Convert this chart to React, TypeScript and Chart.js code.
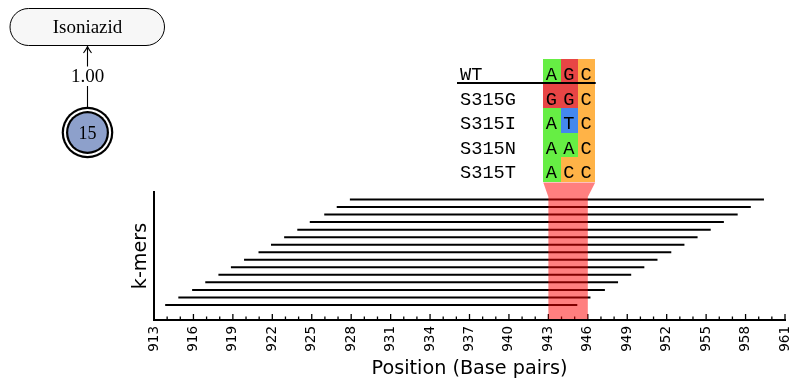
import React, { useEffect, useRef } from "react";
import { Chart, registerables } from "chart.js";

Chart.register(...registerables);

// Resistance network node
const drugName = "Isoniazid";
const edgeWeight = 1.0;
const nodeCount = 15;

// katG codon 315 variants and their codons
const variantNames = ["WT", "S315G", "S315I", "S315N", "S315T"];
const variantCodons = ["AGC", "GGC", "ATC", "AAC", "ACC"];

// k-mer spans (base-pair positions), bottom to top
const kmerRow = [1, 2, 3, 4, 5, 6, 7, 8, 9, 10, 11, 12, 13, 14, 15];
const kmerStart = [913.85, 914.85, 915.9, 916.9, 917.9, 918.85, 919.85, 920.95, 921.9, 922.9, 923.9, 924.85, 925.95, 926.9, 927.9];
const kmerEnd = [945.2, 946.2, 947.3, 948.3, 949.3, 950.3, 951.3, 952.35, 953.35, 954.35, 955.35, 956.35, 957.4, 958.4, 959.4];

// codon region highlighted on the axis
const highlightStart = 943;
const highlightEnd = 946;

// axis range
const axisMin = 913;
const axisMax = 961;
const majorStep = 3;

const nucColors: Record<string, string> = {
  A: "#66ee44",
  G: "#e84545",
  C: "#ffb347",
  T: "#4488ee",
};

// alignment table layout
const TABLE_LEFT = 543.3;
const COL_W = 17.3;
const LABEL_X = 460;
const FIRST_BASELINE = 80;
const ROW_STEP = 24.6;
const MONO = '18.67px "Courier New", "Liberation Mono", monospace';
const SERIF = '"Liberation Serif", "Times New Roman", serif';

const overlayPlugin = {
  id: "overlay",
  afterDatasetsDraw(chart: any) {
    const { ctx, chartArea, scales } = chart;
    const x = scales.x;
    ctx.save();

    // inward ticks: long at every labelled position, short in between
    ctx.strokeStyle = "#000";
    ctx.lineWidth = 1.3;
    for (let v = axisMin; v <= axisMax; v += 1) {
      const px = x.getPixelForValue(v);
      const len = (v - axisMin) % majorStep === 0 ? 6 : 3.5;
      ctx.beginPath();
      ctx.moveTo(px, chartArea.bottom);
      ctx.lineTo(px, chartArea.bottom - len);
      ctx.stroke();
    }

    // highlighted codon band flaring up to the alignment columns
    const bx0 = x.getPixelForValue(highlightStart);
    const bx1 = x.getPixelForValue(highlightEnd);
    const tableBottom = FIRST_BASELINE + ROW_STEP * (variantNames.length - 1) + 3.6;
    const flareBottom = 197;
    ctx.fillStyle = "rgba(255,0,0,0.5)";
    ctx.beginPath();
    ctx.moveTo(TABLE_LEFT, tableBottom + 0.5);
    ctx.lineTo(TABLE_LEFT + COL_W * 3, tableBottom + 0.5);
    ctx.lineTo(bx1, flareBottom);
    ctx.lineTo(bx1, chartArea.bottom - 1);
    ctx.lineTo(bx0, chartArea.bottom - 1);
    ctx.lineTo(bx0, flareBottom);
    ctx.closePath();
    ctx.fill();
    ctx.restore();
  },
  afterDraw(chart: any) {
    const { ctx } = chart;
    ctx.save();

    // alignment cells
    variantCodons.forEach((codon, r) => {
      const base = FIRST_BASELINE + ROW_STEP * r;
      const top = Math.round(base - 21);
      const bottom = Math.round(base + 3.6);
      for (let c = 0; c < codon.length; c++) {
        const l = Math.round(TABLE_LEFT + COL_W * c);
        const rr = Math.round(TABLE_LEFT + COL_W * (c + 1));
        ctx.fillStyle = nucColors[codon[c]];
        ctx.fillRect(l, top, rr - l, bottom - top);
      }
    });
    ctx.fillStyle = "#000";
    ctx.font = MONO;
    ctx.textBaseline = "alphabetic";
    variantCodons.forEach((codon, r) => {
      const base = FIRST_BASELINE + ROW_STEP * r;
      ctx.textAlign = "center";
      for (let c = 0; c < codon.length; c++) {
        ctx.fillText(codon[c], TABLE_LEFT + COL_W * (c + 0.5) - 0.5, base);
      }
      ctx.textAlign = "left";
      ctx.fillText(variantNames[r], LABEL_X, base);
    });
    // rule under the reference row
    ctx.strokeStyle = "#000";
    ctx.lineWidth = 2;
    ctx.beginPath();
    ctx.moveTo(457, FIRST_BASELINE + 3);
    ctx.lineTo(TABLE_LEFT + COL_W * 3 + 0.5, FIRST_BASELINE + 3);
    ctx.stroke();

    // drug node
    const cx = 87.5;
    ctx.beginPath();
    ctx.roundRect(10, 8.5, 154.5, 37, 18.5);
    ctx.fillStyle = "#f7f7f7";
    ctx.fill();
    ctx.lineWidth = 1;
    ctx.strokeStyle = "#000";
    ctx.stroke();
    ctx.fillStyle = "#000";
    ctx.font = `19px ${SERIF}`;
    ctx.textAlign = "center";
    ctx.fillText(drugName, cx, 33.3);

    // weighted edge with arrowhead
    ctx.lineWidth = 1.1;
    ctx.beginPath();
    ctx.moveTo(cx, 107.5);
    ctx.lineTo(cx, 86);
    ctx.moveTo(cx, 66.5);
    ctx.lineTo(cx, 46.5);
    ctx.moveTo(cx - 4, 53);
    ctx.quadraticCurveTo(cx - 1, 49, cx, 46.5);
    ctx.quadraticCurveTo(cx + 1, 49, cx + 4, 53);
    ctx.stroke();
    ctx.font = `19px ${SERIF}`;
    ctx.fillText(edgeWeight.toFixed(2), cx, 81.7);

    // sample-count node (double circle)
    const cy = 132.5;
    const disc = (r: number, color: string) => {
      ctx.beginPath();
      ctx.arc(cx, cy, r, 0, Math.PI * 2);
      ctx.fillStyle = color;
      ctx.fill();
    };
    disc(25.8, "#000");
    disc(23.6, "#fff");
    disc(21.5, "#000");
    disc(19.3, "#8da0cb");
    ctx.fillStyle = "#000";
    ctx.font = `18px ${SERIF}`;
    ctx.fillText(String(nodeCount), cx, 138.5);

    ctx.restore();
  },
};

export default function App() {
  const canvasRef = useRef<HTMLCanvasElement | null>(null);

  useEffect(() => {
    const canvas = canvasRef.current;
    if (!canvas) return;
    const chart = new Chart(canvas, {
      type: "scatter",
      data: {
        datasets: kmerRow.map((row, i) => ({
          data: [
            { x: kmerStart[i], y: row },
            { x: kmerEnd[i], y: row },
          ],
          showLine: true,
          borderColor: "#000",
          backgroundColor: "#000",
          borderWidth: 2,
          pointRadius: 0,
          fill: false,
        })),
      },
      options: {
        animation: false,
        responsive: false,
        devicePixelRatio: 1,
        layout: { padding: { top: 192, left: 125, right: 9, bottom: 0 } },
        plugins: {
          legend: { display: false },
          tooltip: { enabled: false },
        },
        scales: {
          x: {
            type: "linear",
            min: axisMin,
            max: axisMax,
            ticks: {
              stepSize: majorStep,
              autoSkip: false,
              minRotation: 90,
              maxRotation: 90,
              padding: 6,
              color: "#000",
              font: { family: "DejaVu Sans", size: 13.5 },
            },
            grid: { display: true, drawOnChartArea: false, drawTicks: false, color: "rgba(0,0,0,0)" },
            border: { display: true, color: "#000", width: 2 },
            title: {
              display: true,
              text: "Position (Base pairs)",
              color: "#000",
              font: { family: "DejaVu Sans", size: 19.2 },
              padding: { top: 0, bottom: 3 },
            },
            afterFit: (s: any) => {
              s.height = 64;
              s.paddingLeft = 0;
              s.paddingRight = 0;
            },
          },
          y: {
            type: "linear",
            min: -1,
            max: 16,
            ticks: { display: false },
            grid: { display: true, drawOnChartArea: false, drawTicks: false, color: "rgba(0,0,0,0)" },
            border: { display: true, color: "#000", width: 2 },
            title: {
              display: true,
              text: "k-mers",
              color: "#000",
              font: { family: "DejaVu Sans", size: 19.2 },
              padding: { top: 4, bottom: 0 },
            },
            afterFit: (s: any) => {
              s.width = 29;
            },
          },
        },
      },
      plugins: [overlayPlugin],
    });
    return () => chart.destroy();
  }, []);

  return (
    <div style={{ position: "absolute", left: 0, top: 0, width: 794, height: 384 }}>
      <canvas ref={canvasRef} width={794} height={384} style={{ display: "block" }} />
    </div>
  );
}
